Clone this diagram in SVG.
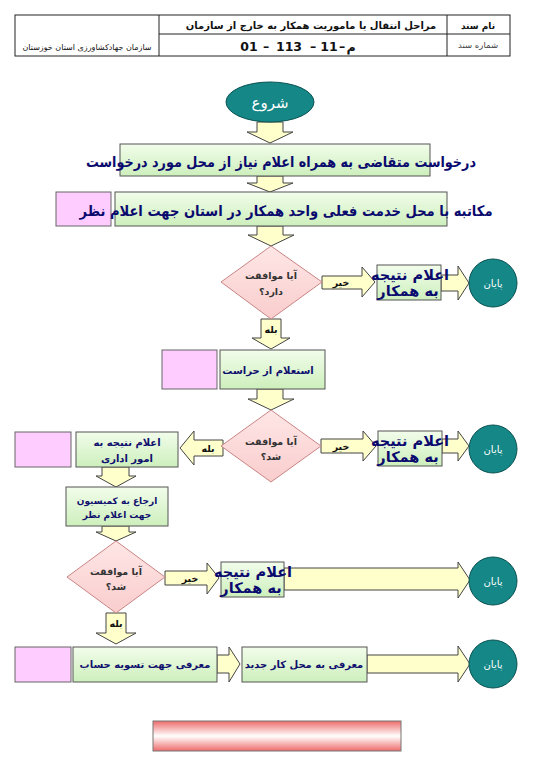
<svg xmlns="http://www.w3.org/2000/svg" width="540" height="781" viewBox="0 0 540 781">
<defs>
<linearGradient id="gGreen" x1="0" y1="0" x2="0" y2="1"><stop offset="0" stop-color="#F2FDEB"/><stop offset="1" stop-color="#CDEFBC"/></linearGradient>
<linearGradient id="gDia" x1="0" y1="0" x2="0" y2="1"><stop offset="0" stop-color="#FFE6E6"/><stop offset="1" stop-color="#F9CDCD"/></linearGradient>
<linearGradient id="gRed" x1="0" y1="0" x2="0" y2="1"><stop offset="0" stop-color="#EE6A6A"/><stop offset="0.5" stop-color="#FFFFFF"/><stop offset="1" stop-color="#EE6A6A"/></linearGradient>
<style>
.tbl{fill:none;stroke:#222;stroke-width:1}
.t{font-family:"DejaVu Sans",sans-serif;direction:rtl}
.green{fill:url(#gGreen);stroke:#555;stroke-width:1}
.pink{fill:#FFCCFF;stroke:#666;stroke-width:1}
.dia{fill:url(#gDia);stroke:#C98585;stroke-width:1}
.term{fill:#158787;stroke:#0B5252;stroke-width:1}
.arr{fill:#FFFFCC;stroke:#444;stroke-width:1}
.big{font-size:14.5px;font-weight:bold;fill:#0A0A6E}
.mid{font-size:10px;font-weight:bold;fill:#10106E}
.sm{font-size:9px;font-weight:bold;fill:#10106E}
.q{font-size:9.5px;font-weight:bold;fill:#333}
.lab{font-size:9.5px;font-weight:bold;fill:#111}
.wt{font-size:10px;fill:#fff}
.num{font-family:"DejaVu Sans",sans-serif;font-size:12.5px;font-weight:bold;fill:#111;text-anchor:middle}
</style>
</defs>
<rect width="540" height="781" fill="#fff"/>
<g id="header">
<rect class="tbl" x="15" y="15" width="495" height="41"/>
<line class="tbl" x1="159" y1="15" x2="159" y2="56"/>
<line class="tbl" x1="447" y1="15" x2="447" y2="56"/>
<line class="tbl" x1="159" y1="34" x2="510" y2="34"/>
<text class="t" x="478" y="29" text-anchor="middle" font-size="9" font-weight="bold" fill="#111">نام سند</text>
<text class="t" x="311" y="29" text-anchor="middle" font-size="10" font-weight="bold" fill="#111">مراحل انتقال یا ماموریت همکار به خارج از سازمان</text>
<text class="t" x="478" y="48" text-anchor="middle" font-size="8.5" fill="#444">شماره سند</text>
<text class="num" y="51"><tspan x="249">01</tspan><tspan x="266">–</tspan><tspan x="289">113</tspan><tspan x="313">–</tspan><tspan x="329">11</tspan><tspan x="342">–</tspan><tspan x="351">م</tspan></text>
<text class="t" x="87" y="50" text-anchor="middle" font-size="8" fill="#111">سازمان جهادکشاورزی استان خوزستان</text>
</g>
<g id="connectors">
<polygon class="arr" points="257,122 283,122 283,132 293,132 270,143 247,132 257,132"/>
<polygon class="arr" points="257,176 283,176 283,183 293,183 270,192 247,183 257,183"/>
<polygon class="arr" points="257,226 283,226 283,235 294,235 271,246 248,235 257,235"/>
<polygon class="arr" points="322,276 362,276 362,267 375,282 362,297 362,289 322,289"/>
<text class="t lab" x="341" y="286" text-anchor="middle">خیر</text>
<polygon class="arr" points="441,275 458,275 458,266 469,283 458,300 458,291 441,291"/>
<polygon class="arr" points="261,319 281,319 281,338 290,338 271,349 252,338 261,338"/>
<text class="t lab" x="271" y="333" text-anchor="middle">بله</text>
<polygon class="arr" points="257,389 283,389 283,399 294,399 271,410 248,399 257,399"/>
<polygon class="arr" points="321,439 363,439 363,431 376,446 363,461 363,453 321,453"/>
<text class="t lab" x="341" y="450" text-anchor="middle">خیر</text>
<polygon class="arr" points="442,439 458,439 458,431 469,446 458,461 458,453 442,453"/>
<polygon class="arr" points="223,440 194,440 194,431 180,448 194,465 194,456 223,456"/>
<text class="t lab" x="208" y="452" text-anchor="middle">بله</text>
<polygon class="arr" points="102,467 129,467 129,476 136,476 116,487 96,476 102,476"/>
<polygon class="arr" points="102,526 129,526 129,532 136,532 116,541 96,532 102,532"/>
<polygon class="arr" points="165,571 207,571 207,563 219,578 207,594 207,585 165,585"/>
<polygon class="arr" points="284,568 458,568 458,562 470,580 458,598 458,590 284,590"/>
<text class="t lab" x="190" y="582" text-anchor="middle">خیر</text>
<polygon class="arr" points="106,613 126,613 126,633 136,633 116,644 96,633 106,633"/>
<text class="t lab" x="116" y="627" text-anchor="middle">بله</text>
<polygon class="arr" points="217,655 229,655 229,647 240,664 229,682 229,673 217,673"/>
<polygon class="arr" points="367,655 458,655 458,646 470,664 458,682 458,673 367,673"/>
</g>
<g id="start">
<ellipse class="term" cx="270" cy="102" rx="44" ry="20"/>
<text class="t" x="270" y="108" text-anchor="middle" font-size="15" fill="#fff">شروع</text>
</g>
<g id="n1">
<rect class="green" x="120" y="144" width="310" height="32"/>
<text class="t big" x="281" y="167" text-anchor="middle" textLength="390" lengthAdjust="spacingAndGlyphs">درخواست متقاضی به همراه اعلام نیاز از محل مورد درخواست</text>
</g>
<g id="n2">
<rect class="pink" x="56" y="192" width="55" height="34"/>
<rect class="green" x="115" y="192" width="332" height="34"/>
<text class="t big" x="286" y="216" text-anchor="middle" textLength="413" lengthAdjust="spacingAndGlyphs">مکاتبه با محل خدمت فعلی واحد همکار در استان جهت اعلام نظر</text>
</g>
<g id="d1">
<polygon class="dia" points="271,246 322,282 271,319 221,282"/>
<text class="t q" x="271" y="279" text-anchor="middle">آیا موافقت</text>
<text class="t q" x="271" y="295" text-anchor="middle">دارد؟</text>
</g>
<g id="r1">
<rect class="green" x="377" y="265" width="64" height="35"/>
<text class="t big" x="410" y="280" text-anchor="middle">اعلام نتیجه</text>
<text class="t big" x="408" y="296" text-anchor="middle">به همکار</text>
</g>
<g id="e1">
<circle class="term" cx="493" cy="283" r="24"/>
<text class="t wt" x="493" y="287" text-anchor="middle">پایان</text>
</g>
<g id="n3">
<rect class="pink" x="162" y="350" width="55" height="39"/>
<rect class="green" x="220" y="350" width="105" height="39"/>
<text class="t mid" x="268" y="374" text-anchor="middle">استعلام از حراست</text>
</g>
<g id="d2">
<polygon class="dia" points="271,410 321,446 271,482 221,446"/>
<text class="t q" x="271" y="445" text-anchor="middle">آیا موافقت</text>
<text class="t q" x="271" y="460" text-anchor="middle">شد؟</text>
</g>
<g id="r2">
<rect class="green" x="378" y="431" width="64" height="35"/>
<text class="t big" x="410" y="446" text-anchor="middle">اعلام نتیجه</text>
<text class="t big" x="408" y="462" text-anchor="middle">به همکار</text>
</g>
<g id="e2">
<circle class="term" cx="493" cy="449" r="24"/>
<text class="t wt" x="493" y="453" text-anchor="middle">پایان</text>
</g>
<g id="n4">
<rect class="pink" x="15" y="432" width="56" height="35"/>
<rect class="green" x="76" y="432" width="102" height="35"/>
<text class="t mid" x="127" y="446" text-anchor="middle">اعلام نتیجه به</text>
<text class="t mid" x="127" y="462" text-anchor="middle">امور اداری</text>
</g>
<g id="n5">
<rect class="green" x="66" y="487" width="102" height="39"/>
<text class="t sm" x="117" y="504" text-anchor="middle">ارجاع به کمیسیون</text>
<text class="t sm" x="117" y="518" text-anchor="middle">جهت اعلام نظر</text>
</g>
<g id="d3">
<polygon class="dia" points="116,541 165,577 116,613 67,577"/>
<text class="t q" x="116" y="575" text-anchor="middle">آیا موافقت</text>
<text class="t q" x="116" y="590" text-anchor="middle">شد؟</text>
</g>
<g id="r3">
<rect class="green" x="221" y="562" width="63" height="35"/>
<text class="t big" x="253" y="577" text-anchor="middle">اعلام نتیجه</text>
<text class="t big" x="251" y="593" text-anchor="middle">به همکار</text>
</g>
<g id="e3">
<circle class="term" cx="493" cy="581" r="24"/>
<text class="t wt" x="493" y="585" text-anchor="middle">پایان</text>
</g>
<g id="n6">
<rect class="pink" x="15" y="647" width="56" height="35"/>
<rect class="green" x="73" y="647" width="144" height="35"/>
<text class="t mid" x="145" y="668" text-anchor="middle">معرفی جهت تسویه حساب</text>
</g>
<g id="n7">
<rect class="green" x="242" y="647" width="125" height="35"/>
<text class="t mid" x="304" y="668" text-anchor="middle">معرفی به محل کار جدید</text>
</g>
<g id="e4">
<circle class="term" cx="493" cy="664" r="24"/>
<text class="t wt" x="493" y="668" text-anchor="middle">پایان</text>
</g>
<g id="bar">
<rect x="153" y="721" width="248" height="30" fill="url(#gRed)" stroke="#777" stroke-width="1"/>
</g>
</svg>
